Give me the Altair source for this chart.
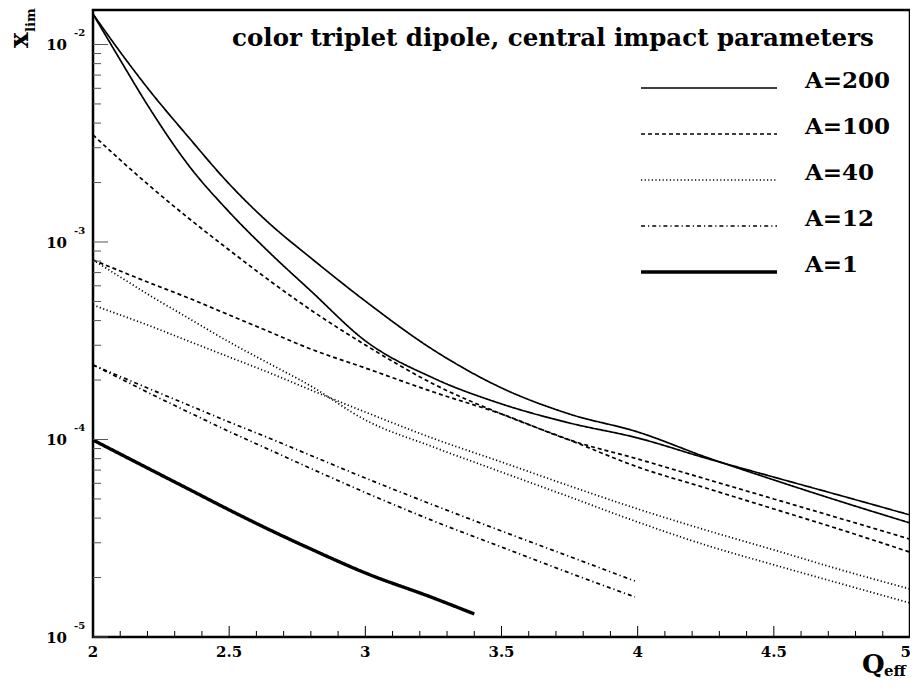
import altair as alt
import pandas as pd

# ---------------- data ----------------
x_grid = [2.0, 2.1, 2.2, 2.35, 2.5, 2.65, 2.8, 3.0, 3.25, 3.5, 3.75, 4.0, 4.25, 4.5, 4.75, 5.0]

a200_first = [0.01426, 0.00916, 0.00603, 0.003404, 0.001968, 0.001233, 0.000830, 0.000502,
              0.000284, 0.0001825, 0.0001345, 0.0001092, 8.15e-5, 6.24e-5, 4.83e-5, 3.78e-5]
a200_second = [0.01426, 0.00835, 0.00494, 0.002455, 0.001419, 0.000879, 0.000565, 0.000316,
               0.0002046, 0.0001514, 0.0001212, 0.0001018, 8.05e-5, 6.45e-5, 5.18e-5, 4.15e-5]

a100_first = [0.003482, 0.002602, 0.001967, 0.001323, 0.000911, 0.000635, 0.0004525, 0.000301,
              0.000191, 0.0001346, 9.94e-5, 7.26e-5, 5.68e-5, 4.45e-5, 3.48e-5, 2.69e-5]
a100_second = [0.000811, 0.000713, 0.000627, 0.000521, 0.000427, 0.000350, 0.000287, 0.0002301,
               0.0001739, 0.0001346, 9.94e-5, 7.97e-5, 6.31e-5, 5.0e-5, 3.96e-5, 3.13e-5]

a40_first = [0.000811, 0.000665, 0.000545, 0.000412, 0.0003116, 0.0002412, 0.0001866, 0.0001255,
             9.16e-5, 6.84e-5, 5.12e-5, 3.82e-5, 2.92e-5, 2.32e-5, 1.855e-5, 1.487e-5]
a40_second = [0.00048, 0.000427, 0.00038, 0.0003152, 0.0002616, 0.0002171, 0.000178, 0.0001377,
              0.0001012, 7.69e-5, 5.82e-5, 4.45e-5, 3.48e-5, 2.76e-5, 2.18e-5, 1.75e-5]

x_grid_a12 = [2.0, 2.1, 2.2, 2.35, 2.5, 2.65, 2.8, 3.0, 3.25, 3.5, 3.75, 3.99]
a12_first = [0.0002384, 0.0002084, 0.0001823, 0.0001495, 0.0001226, 0.0001012, 8.3e-5, 6.38e-5,
             4.66e-5, 3.44e-5, 2.556e-5, 1.92e-5]
a12_second = [0.0002384, 0.0002037, 0.0001734, 0.0001377, 0.0001098, 8.85e-5, 7.13e-5, 5.39e-5,
              3.87e-5, 2.855e-5, 2.11e-5, 1.594e-5]

x_grid_a1 = [2.0, 2.1, 2.2, 2.35, 2.5, 2.65, 2.8, 3.0, 3.25, 3.4]
a1_values = [9.94e-5, 8.44e-5, 7.17e-5, 5.62e-5, 4.4e-5, 3.48e-5, 2.79e-5, 2.11e-5, 1.576e-5, 1.308e-5]

series_names = ["A=200", "A=100", "A=40", "A=12", "A=1"]
thin_names = ["A=200", "A=100", "A=40", "A=12"]

x_major_ticks = [2, 2.5, 3, 3.5, 4, 4.5, 5]
x_minor_ticks = [2.1, 2.2, 2.3, 2.4, 2.6, 2.7, 2.8, 2.9, 3.1, 3.2, 3.3, 3.4,
                 3.6, 3.7, 3.8, 3.9, 4.1, 4.2, 4.3, 4.4, 4.6, 4.7, 4.8, 4.9]
x_tick_labels = ["2", "2.5", "3", "3.5", "4", "4.5", "5"]
y_major_ticks = [1e-5, 1e-4, 1e-3, 1e-2]
y_minor_ticks = [2e-5, 3e-5, 4e-5, 5e-5, 6e-5, 7e-5, 8e-5, 9e-5,
                 2e-4, 3e-4, 4e-4, 5e-4, 6e-4, 7e-4, 8e-4, 9e-4,
                 2e-3, 3e-3, 4e-3, 5e-3, 6e-3, 7e-3, 8e-3, 9e-3]
y_label_exponents = ["-5", "-4", "-3", "-2"]

title_text = "color triplet dipole, central impact parameters"

# ---------------- tables ----------------
rows = []
def add(name, curve, xs, ys):
    for x, y in zip(xs, ys):
        rows.append({"A": name, "curve": curve, "Q": x, "x": y})

add("A=200", "a200_1", x_grid, a200_first)
add("A=200", "a200_2", x_grid, a200_second)
add("A=100", "a100_1", x_grid, a100_first)
add("A=100", "a100_2", x_grid, a100_second)
add("A=40", "a40_1", x_grid, a40_first)
add("A=40", "a40_2", x_grid, a40_second)
add("A=12", "a12_1", x_grid_a12, a12_first)
add("A=12", "a12_2", x_grid_a12, a12_second)
add("A=1", "a1", x_grid_a1, a1_values)
df = pd.DataFrame(rows)

W, H = 817, 627
FONT = "DejaVu Serif"

xs = alt.Scale(domain=[2, 5], nice=False, zero=False)
ys = alt.Scale(type="log", domain=[1e-5, 0.01495], nice=False)
dash_scale = alt.Scale(domain=series_names,
                       range=[[1, 0], [4, 3], [1.2, 2.4], [4, 3, 1.2, 3], [1, 0]])

base = alt.Chart(df).encode(
    x=alt.X("Q:Q", scale=xs, axis=None),
    y=alt.Y("x:Q", scale=ys, axis=None),
    detail="curve:N",
    strokeDash=alt.StrokeDash("A:N", scale=dash_scale, legend=None),
)
curves_thin = base.transform_filter(
    alt.FieldOneOfPredicate(field="A", oneOf=thin_names)
).mark_line(color="black", strokeWidth=1.7, interpolate="monotone")
curves_thick = base.transform_filter(
    alt.FieldEqualPredicate(field="A", equal="A=1")
).mark_line(color="black", strokeWidth=3.4, interpolate="monotone")

# ticks (inside the frame)
xmaj = alt.Chart(pd.DataFrame({"v": x_major_ticks})).mark_rule(color="black", strokeWidth=1).encode(
    x=alt.X("v:Q", scale=xs, axis=None), y=alt.value(H), y2=alt.value(H - 11))
xmin = alt.Chart(pd.DataFrame({"v": x_minor_ticks})).mark_rule(color="black", strokeWidth=1).encode(
    x=alt.X("v:Q", scale=xs, axis=None), y=alt.value(H), y2=alt.value(H - 6))
ymaj = alt.Chart(pd.DataFrame({"v": y_major_ticks})).mark_rule(color="#555", strokeWidth=1).encode(
    y=alt.Y("v:Q", scale=ys, axis=None), x=alt.value(0), x2=alt.value(15))
ymin = alt.Chart(pd.DataFrame({"v": y_minor_ticks})).mark_rule(color="#555", strokeWidth=1).encode(
    y=alt.Y("v:Q", scale=ys, axis=None), x=alt.value(0), x2=alt.value(8))

# tick labels
xlab_df = pd.DataFrame({"v": x_major_ticks, "t": x_tick_labels})
xlab_inner = alt.Chart(xlab_df).transform_filter("datum.v < 5").mark_text(
    font=FONT, fontWeight="bold", fontSize=15, align="center", baseline="alphabetic"
).encode(x=alt.X("v:Q", scale=xs, axis=None), y=alt.value(H + 20), text="t:N")
xlab_last = alt.Chart(xlab_df).transform_filter("datum.v >= 5").mark_text(
    font=FONT, fontWeight="bold", fontSize=15, align="right", baseline="alphabetic", dx=1
).encode(x=alt.X("v:Q", scale=xs, axis=None), y=alt.value(H + 20), text="t:N")

ylab_df = pd.DataFrame({"v": y_major_ticks, "e": y_label_exponents, "b": ["10"] * 4})
ylab = alt.Chart(ylab_df).mark_text(
    font=FONT, fontWeight="bold", fontSize=15, align="right", baseline="alphabetic", dy=6
).encode(y=alt.Y("v:Q", scale=ys, axis=None), x=alt.value(-26), text="b:N")
yexp = alt.Chart(ylab_df).mark_text(
    font=FONT, fontWeight="bold", fontSize=10, align="left", baseline="alphabetic", dy=-8
).encode(y=alt.Y("v:Q", scale=ys, axis=None), x=alt.value(-19), text="e:N")

# axis titles
def txt(s, x, y, size, angle=0, align="left"):
    props = dict(font=FONT, fontWeight="bold", fontSize=size, align=align, baseline="alphabetic")
    if angle:
        props["angle"] = angle
    return alt.Chart(pd.DataFrame({"t": [s]})).mark_text(**props).encode(
        x=alt.value(x), y=alt.value(y), text="t:N")

xt1 = txt("x", -65, 38, 26, angle=270)
xt2 = txt("lim", -58, 22, 13, angle=270)
qt1 = txt("Q", 769, 663, 26)
qt2 = txt("eff", 791, 666, 15)
title = txt(title_text, 460, 36, 24.5, align="center")

# legend
leg_df = pd.DataFrame({"A": series_names})
leg_y = alt.Y("A:N", sort=series_names, axis=None,
              scale=alt.Scale(type="point", domain=series_names, range=[78, 262], padding=0))
leg_base = alt.Chart(leg_df).encode(
    y=leg_y, x=alt.value(548), x2=alt.value(684),
    strokeDash=alt.StrokeDash("A:N", scale=dash_scale, legend=None),
)
leg_thin = leg_base.transform_filter(
    alt.FieldOneOfPredicate(field="A", oneOf=thin_names)
).mark_rule(color="black", strokeWidth=1.7)
leg_thick = leg_base.transform_filter(
    alt.FieldEqualPredicate(field="A", equal="A=1")
).mark_rule(color="black", strokeWidth=3.4)
leg_text = alt.Chart(leg_df).mark_text(
    font=FONT, fontWeight="bold", fontSize=23, align="left", baseline="alphabetic"
).encode(y=leg_y, x=alt.value(712), text="A:N")
legend = alt.layer(leg_thin, leg_thick, leg_text)

main = alt.layer(curves_thin, curves_thick, xmaj, xmin, ymaj, ymin, xlab_inner, xlab_last,
                 ylab, yexp, xt1, xt2, qt1, qt2, title)

chart = alt.layer(main, legend).resolve_scale(y="independent").properties(
    width=W, height=H,
    autosize=alt.AutoSizeParams(type="none"),
    padding={"left": 85, "top": 2, "right": 0, "bottom": 43},
).configure_view(stroke="black", strokeWidth=2.5)

chart.save("out.html", embed_options={"renderer": "svg", "actions": False})
